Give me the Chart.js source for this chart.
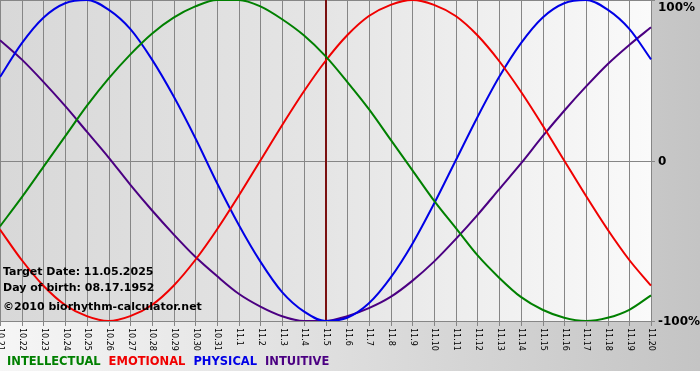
<!DOCTYPE html>
<html lang="en">
    <head>
        <meta charset="UTF-8">
        <title>Biorhythm</title>
        <style>
            body { margin: 0; background: #fff; }
            canvas { display: block; }
        </style>
    </head>
    <body>
        <canvas id="bio" width="700" height="380"></canvas>
    </body>

    <script src="https://cdn.jsdelivr.net/npm/chart.js@4.4.1/dist/chart.umd.min.js"></script>

    <script>
        const days = ["10.21", "10.22", "10.23", "10.24", "10.25", "10.26", "10.27", "10.28", "10.29", "10.30", "10.31",
            "11.1", "11.2", "11.3", "11.4", "11.5", "11.6", "11.7", "11.8", "11.9", "11.10",
            "11.11", "11.12", "11.13", "11.14", "11.15", "11.16", "11.17", "11.18", "11.19", "11.20"];

        const intellectual = [-41, -23, -4, 15, 34, 51, 66, 79, 89, 96, 100, 100, 96, 88, 78, 65, 49, 32, 13, -6, -25, -42, -59, -73, -85, -93, -98, -100, -98, -93, -84];
        const emotional = [-43, -62, -78, -90, -97, -100, -97, -90, -78, -62, -43, -22, 0, 22, 43, 62, 78, 90, 97, 100, 97, 90, 78, 62, 43, 22, 0, -22, -43, -62, -78];
        const physical = [52, 73, 89, 98, 100, 94, 82, 63, 40, 14, -14, -40, -63, -82, -94, -100, -98, -89, -73, -52, -27, 0, 27, 52, 73, 89, 98, 100, 94, 82, 63];
        const intuitive = [75, 63, 49, 34, 18, 2, -15, -31, -46, -60, -72, -83, -91, -97, -100, -100, -97, -92, -85, -75, -63, -49, -34, -18, -2, 15, 31, 46, 60, 72, 83];

        const yTicks = [100, 0, -100];
        const yTickLabels = ["100%", "0", "-100%"];
        const targetDay = "11.5";
        const infoLines = ["Target Date: 11.05.2025", "Day of birth: 08.17.1952", "\u00a92010 biorhythm-calculator.net"];

        // backgrounds, grid, axis labels and the text bits are drawn by hand
        const decor = {
            id: "decor",
            beforeDraw(chart) {
                const { ctx, chartArea: a, scales: { x, y } } = chart;
                ctx.save();
                ctx.fillStyle = "#fff";
                ctx.fillRect(0, 0, chart.width, chart.height);

                let g = ctx.createLinearGradient(0, 0, chart.width, 0);
                g.addColorStop(0, "#f6f6f6");
                g.addColorStop(1, "#c4c4c4");
                ctx.fillStyle = g;
                ctx.fillRect(0, 0, chart.width, a.bottom + 50);

                g = ctx.createLinearGradient(a.left, 0, a.right, 0);
                g.addColorStop(0, "#d8d8d8");
                g.addColorStop(0.5, "#e5e5e5");
                g.addColorStop(1, "#fafafa");
                ctx.fillStyle = g;
                ctx.fillRect(a.left, a.top, a.right - a.left, a.bottom - a.top);

                ctx.strokeStyle = "#868686";
                ctx.lineWidth = 1;
                ctx.beginPath();
                days.forEach((d, i) => {
                    const px = Math.round(x.getPixelForValue(i)) + 0.5;
                    ctx.moveTo(px, a.top);
                    ctx.lineTo(px, a.bottom + 5);
                });
                yTicks.forEach(v => {
                    const py = Math.round(y.getPixelForValue(v)) + 0.5;
                    ctx.moveTo(a.left, py);
                    ctx.lineTo(a.right + 4, py);
                });
                ctx.stroke();

                // x labels, rotated clockwise
                ctx.fillStyle = "#000";
                ctx.font = "8px 'DejaVu Sans'";
                ctx.textAlign = "left";
                ctx.textBaseline = "middle";
                days.forEach((d, i) => {
                    ctx.save();
                    ctx.translate(x.getPixelForValue(i) + 0.5, a.bottom + 7);
                    ctx.rotate(Math.PI / 2);
                    ctx.fillText(d, 0, 0);
                    ctx.restore();
                });

                ctx.font = "bold 12px 'DejaVu Sans'";
                yTicks.forEach((v, i) => {
                    const py = Math.max(y.getPixelForValue(v), 7);
                    ctx.fillText(yTickLabels[i], a.right + 7, py + 1);
                });
                ctx.restore();
            },
            beforeDatasetsDraw(chart) {
                const { ctx, chartArea: a, scales: { x } } = chart;
                const px = Math.round(x.getPixelForValue(days.indexOf(targetDay)));
                ctx.save();
                ctx.strokeStyle = "#7a1010";
                ctx.lineWidth = 2;
                ctx.beginPath();
                ctx.moveTo(px, a.top);
                ctx.lineTo(px, a.bottom);
                ctx.stroke();
                ctx.restore();
            },
            afterDraw(chart) {
                const { ctx, chartArea: a } = chart;
                ctx.save();
                ctx.fillStyle = "#000";
                ctx.font = "bold 11px 'DejaVu Sans'";
                ctx.textAlign = "left";
                ctx.textBaseline = "middle";
                ctx.fillText(infoLines[0], 3, 272);
                ctx.fillText(infoLines[1], 3, 288);
                ctx.fillText(infoLines[2], 3, 307);

                // legend line along the bottom
                ctx.font = "bold 11.5px 'DejaVu Sans'";
                let lx = 7;
                chart.data.datasets.forEach(ds => {
                    ctx.fillStyle = ds.borderColor;
                    ctx.fillText(ds.label, lx, a.bottom + 41);
                    lx += ctx.measureText(ds.label).width + 8;
                });
                ctx.restore();
            }
        };

        const ctx = document.getElementById("bio").getContext("2d");
        const chart = new Chart(ctx, {
            type: "line",
            data: {
                labels: days,
                datasets: [
                    { label: "INTELLECTUAL", data: intellectual, borderColor: "#008000" },
                    { label: "EMOTIONAL", data: emotional, borderColor: "#f00000" },
                    { label: "PHYSICAL", data: physical, borderColor: "#0000e6" },
                    { label: "INTUITIVE", data: intuitive, borderColor: "#4b0082" },
                ],
            },
            options: {
                responsive: false,
                animation: false,
                devicePixelRatio: 1,
                layout: { padding: { left: 0, right: 49, top: 0, bottom: 59 } },
                elements: {
                    point: { radius: 0 },
                    line: { borderWidth: 2, fill: false, cubicInterpolationMode: "monotone" },
                },
                scales: {
                    x: { display: false },
                    y: { display: false, min: -100, max: 100 },
                },
                plugins: {
                    legend: { display: false },
                    tooltip: { enabled: false },
                },
            },
            plugins: [decor],
        });
    </script>
</html>
